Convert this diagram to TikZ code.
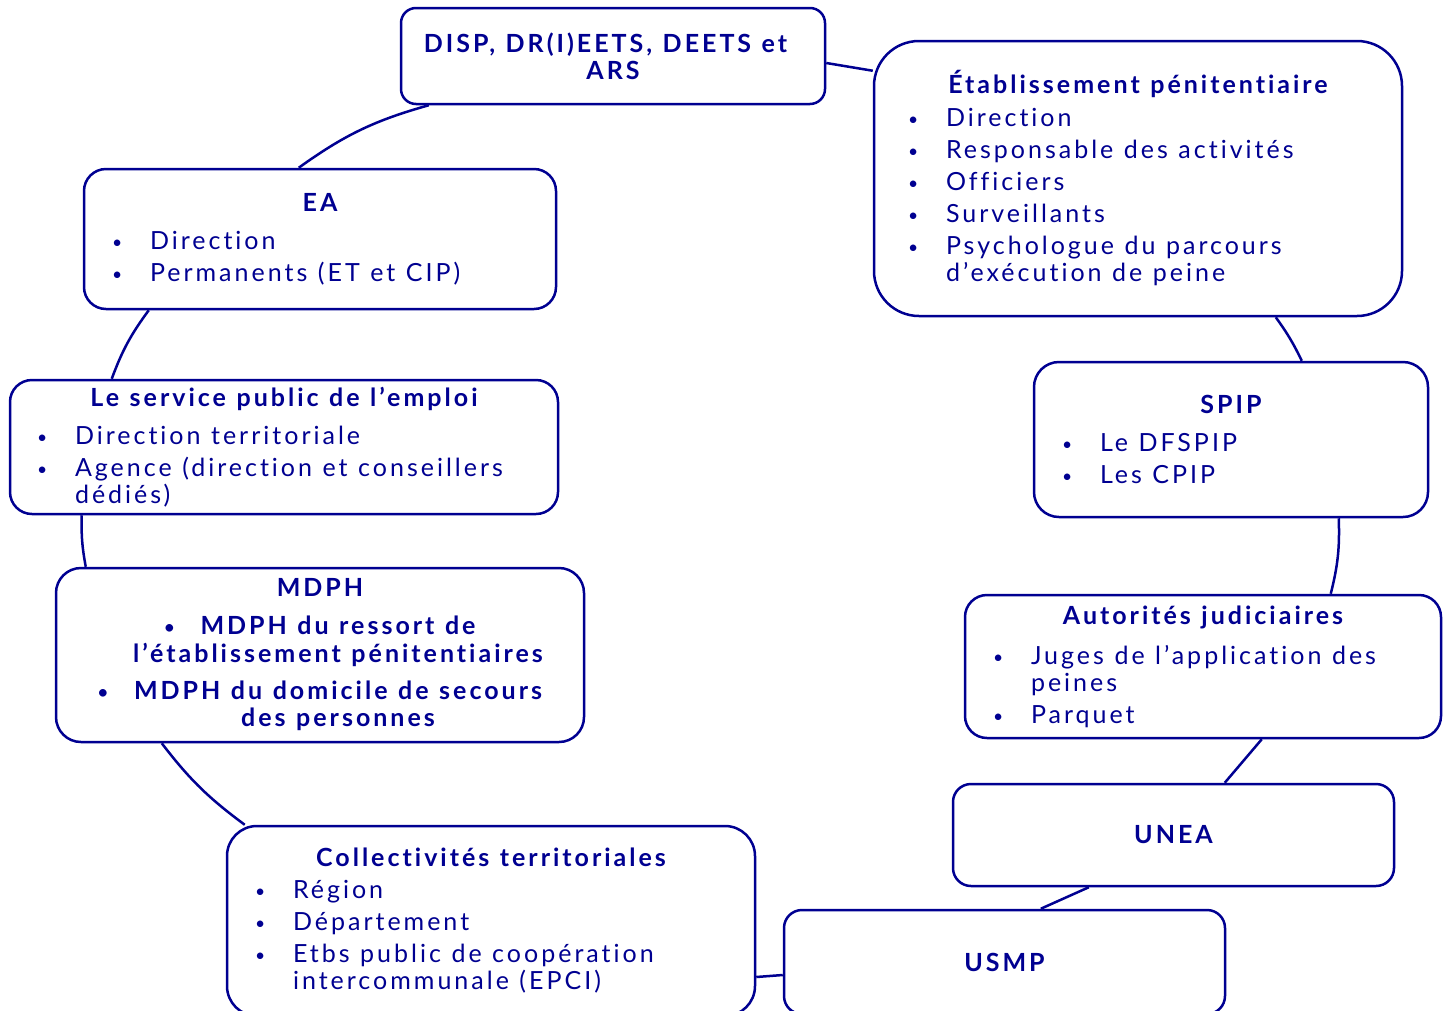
\documentclass[tikz,border=0pt]{standalone}
\usepackage{fontspec}
\usepackage{graphicx}
\setmainfont{Lato}[LetterSpace=12, Ligatures={NoCommon}]
\definecolor{bf}{HTML}{000091}
\tikzset{
  box/.style={draw=bf, line width=2.5pt, rounded corners=#1, fill=white, text=bf,
    inner ysep=0pt, font=\fontsize{25}{27}\selectfont,
    execute at begin node={\raggedright\parindent=0pt\parskip=5pt\spaceskip=10.5pt plus 2pt minus 1pt\relax}},
  conn/.style={draw=bf, line width=2.5pt},
}
\newcommand\Bul{\raisebox{1pt}{\scalebox{0.7}{\textbullet}}}
\newcommand\Ttl[2][6pt]{{\centering\bfseries #2\par}\vspace{#1}}
\newcommand\Itm[1]{\noindent\hangindent=38pt\hangafter=1\makebox[38pt][l]{\Bul}#1\par}
\begin{document}
\begin{tikzpicture}[x=1pt,y=-1pt]
\useasboundingbox (0,0) rectangle (1448,1010);
\clip (0,0) rectangle (1448,1010);
\node[box=15, minimum width=424pt, minimum height=96pt, inner xsep=8pt, text width=408pt] (disp) at (613,56)
  {{\centering\bfseries DISP, DR(I)EETS, DEETS et\newline ARS\par}};
\node[box=45, minimum width=528pt, minimum height=275pt, inner xsep=34pt, text width=460pt] (etab) at (1138,178.5)
  {\Ttl[1pt]{Établissement pénitentiaire}
   \Itm{Direction}
   \Itm{Responsable des activités}
   \Itm{Officiers}
   \Itm{Surveillants}
   \Itm{Psychologue du parcours\newline d’exécution de peine}};
\node[box=22, minimum width=472pt, minimum height=140pt, inner xsep=28pt, text width=416pt] (ea) at (320,239)
  {\Ttl{EA}
   \Itm{Direction}
   \Itm{Permanents (ET et CIP)}};
\node[box=22, minimum width=548pt, minimum height=134pt, inner xsep=27pt, text width=494pt] (spe) at (284,447)
  {\Ttl{Le service public de l’emploi}
   \Itm{Direction territoriale}
   \Itm{Agence (direction et conseillers\newline dédiés)}};
\node[box=25, minimum width=394pt, minimum height=155pt, inner xsep=28pt, text width=338pt] (spip) at (1231,439.5)
  {\Ttl{SPIP}
   \Itm{Le DFSPIP}
   \Itm{Les CPIP}};
\node[box=25, minimum width=528pt, minimum height=174pt, inner xsep=4pt, text width=520pt] (mdph) at (320,655)
  {{\centering\bfseries MDPH\\[11pt]
   \hspace*{36pt}\llap{\Bul\hspace{26pt}}MDPH du ressort de\\[1pt]
   \hspace*{36pt}l’établissement pénitentiaires\\[10pt]
   \hspace*{36pt}\llap{\Bul\hspace{26pt}}MDPH du domicile de secours\\
   \hspace*{36pt}des personnes\par}};
\node[box=22, minimum width=476pt, minimum height=143pt, inner xsep=28pt, text width=420pt] (aut) at (1203,666.5)
  {\Ttl[8pt]{Autorités judiciaires}
   \Itm{Juges de l’application des\newline peines}
   \Itm{Parquet}};
\node[box=18, minimum width=441pt, minimum height=102pt, inner xsep=28pt, text width=385pt] (unea) at (1173.5,835)
  {{\centering\bfseries UNEA\par}};
\node[box=30, minimum width=528pt, minimum height=190pt, inner xsep=28pt, text width=472pt] (coll) at (491,921)
  {\Ttl[0pt]{Collectivités territoriales}
   \Itm{Région}
   \Itm{Département}
   \Itm{Etbs public de coopération\newline intercommunale (EPCI)}};
\node[box=18, minimum width=441pt, minimum height=104pt, inner xsep=28pt, text width=385pt] (usmp) at (1004.5,962)
  {{\centering\bfseries USMP\par}};
% connectors
\draw[conn] ([xshift=29pt]disp.south west) to[bend right=10] ([xshift=216pt]ea.north west);
\draw[conn] ([xshift=66pt]ea.south west) to[bend right=8] ([xshift=103pt]spe.north west);
\draw[conn] ([xshift=73pt]spe.south west) to[bend right=6] ([xshift=31pt]mdph.north west);
\draw[conn] ([xshift=107pt]mdph.south west) to[bend right=8] ([xshift=19pt]coll.north west);
\draw[conn] ([yshift=-56pt]coll.east) -- ([yshift=-13pt]usmp.west);
\draw[conn] ([xshift=258pt]usmp.north west) -- ([xshift=137pt]unea.south west);
\draw[conn] ([xshift=273pt]unea.north west) -- ([xshift=298pt]aut.south west);
\draw[conn] ([xshift=367pt]aut.north west) to[bend right=8] ([xshift=306pt]spip.south west);
\draw[conn] ([xshift=269pt]spip.north west) to[bend right=5] ([xshift=403pt]etab.south west);
\draw[conn] ([yshift=-31pt]etab.north west) -- ([yshift=-7pt]disp.east);
\end{tikzpicture}
\end{document}
